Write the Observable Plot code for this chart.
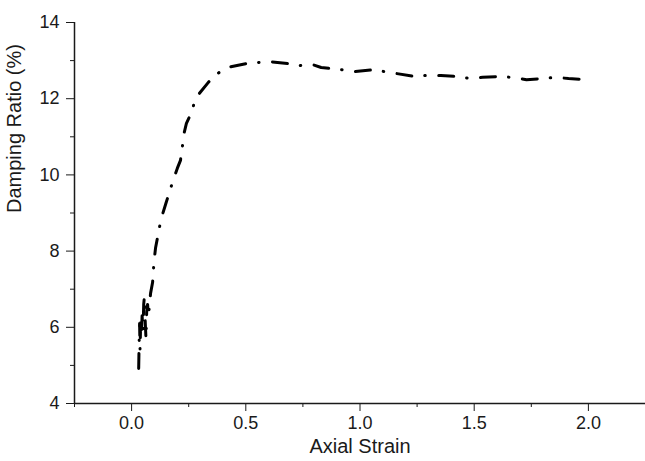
<!DOCTYPE html>
<html>
<head>
<meta charset="utf-8">
<script src="https://cdn.jsdelivr.net/npm/d3@7"></script>
<script src="https://cdn.jsdelivr.net/npm/@observablehq/plot@0.6"></script>
<style>
  html, body { margin: 0; padding: 0; background: #fff; }
  #chart { width: 645px; height: 461px; }
</style>
</head>
<body>
<div id="chart"></div>
<script>
const strain = [0.031,0.033,0.035,0.037,0.040,0.043,0.046,0.050,0.053,0.056,0.060,0.063,0.066,0.070,0.074,0.083,0.092,0.096,0.100,0.105,0.122,0.127,0.150,0.183,0.200,0.214,0.223,0.227,0.240,0.266,0.275,0.297,0.336,0.376,0.419,0.502,0.555,0.607,0.686,0.738,0.790,0.830,0.921,0.978,1.057,1.109,1.160,1.240,1.290,1.354,1.428,1.485,1.537,1.611,1.668,1.729,1.800,1.856,1.913,1.990];
const damping = [4.92,5.60,6.10,5.40,6.20,5.80,6.30,5.90,6.60,6.80,6.10,5.70,6.40,6.60,6.30,6.89,7.18,7.54,7.83,8.09,8.62,8.80,9.25,9.88,10.17,10.38,10.77,11.03,11.35,11.69,11.93,12.14,12.43,12.66,12.82,12.92,12.95,12.97,12.92,12.87,12.90,12.82,12.76,12.71,12.76,12.71,12.66,12.58,12.61,12.61,12.58,12.53,12.56,12.58,12.56,12.50,12.53,12.56,12.53,12.50];
const xMajor = [0, 0.5, 1.0, 1.5, 2.0];
const xMinor = [-0.25, 0.25, 0.75, 1.25, 1.75];
const yMajor = [4, 6, 8, 10, 12, 14];
const yMinor = [5, 7, 9, 11, 13];
const xTitle = "Axial Strain";
const yTitle = "Damping Ratio (%)";

const data = strain.map((s, i) => ({strain: s, damping: damping[i]}));

const ink = "#1a1a1a";
const chart = Plot.plot({
  width: 645,
  height: 461,
  marginLeft: 74,
  marginRight: 0,
  marginTop: 22,
  marginBottom: 58,
  style: {fontFamily: "'Liberation Sans', Arial, sans-serif", fontSize: "18px", color: ink, background: "#fff"},
  x: {domain: [-0.25, 2.25]},
  y: {domain: [4, 14]},
  marks: [
    Plot.axisY({ticks: yMajor, tickSize: 8, tickPadding: 7, tickFormat: d3.format("d"), label: null, fontSize: 18, stroke: ink}),
    Plot.axisY({ticks: yMinor, tickSize: 4, tickFormat: () => "", label: null, stroke: ink}),
    Plot.axisX({ticks: xMajor, tickSize: 8, tickPadding: 5, tickFormat: d3.format(".1f"), label: null, fontSize: 18, stroke: ink}),
    Plot.axisX({ticks: xMinor, tickSize: 4, tickFormat: () => "", label: null, stroke: ink}),
    Plot.ruleX([-0.25], {stroke: ink, strokeWidth: 1.5}),
    Plot.ruleY([4], {stroke: ink, strokeWidth: 1.5}),
    Plot.line(data, {x: "strain", y: "damping", stroke: "#000", strokeWidth: 3,
      strokeDasharray: "15,13,0.5,13.5", strokeLinecap: "round", strokeLinejoin: "round"}),
    Plot.text([xTitle], {frameAnchor: "bottom", dy: 49, fontSize: 20, fill: ink}),
    Plot.text([yTitle], {frameAnchor: "left", dx: -60, rotate: -90, fontSize: 20, fill: ink})
  ]
});
document.getElementById("chart").appendChild(chart);
</script>
</body>
</html>
